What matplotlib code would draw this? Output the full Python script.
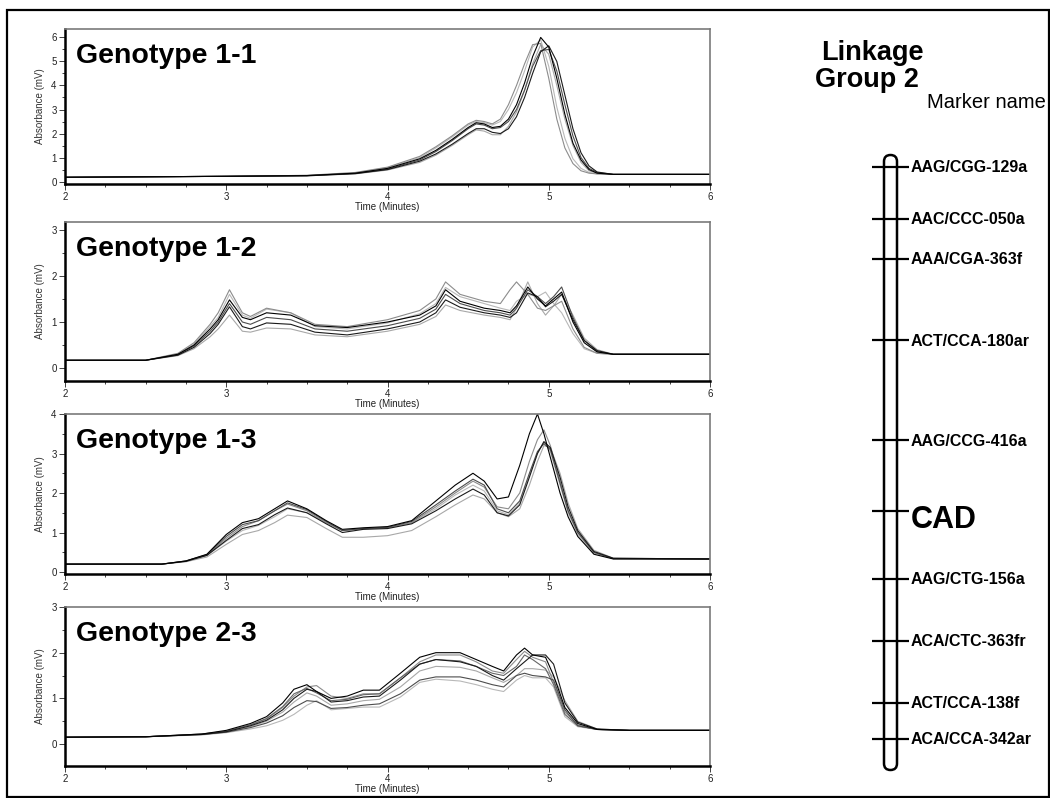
import matplotlib
matplotlib.use("Agg")
import matplotlib.pyplot as plt
from matplotlib.patches import Rectangle, FancyBboxPatch
from matplotlib.ticker import MultipleLocator

plt.rcParams['font.family'] = ['Liberation Sans', 'DejaVu Sans']

# ---------------- chromatogram data (time in minutes, absorbance in mV) ----------------
t1 = [2.0, 2.5, 3.0, 3.5, 3.8, 4.0, 4.2, 4.3, 4.4, 4.5, 4.55, 4.6, 4.65, 4.7,
      4.75, 4.8, 4.85, 4.9, 4.95, 5.0, 5.05, 5.1, 5.15, 5.2, 5.25, 5.3, 5.4, 6.0]
g11_a = [0.18, 0.2, 0.22, 0.25, 0.35, 0.55, 0.95, 1.3, 1.75, 2.25, 2.45, 2.4, 2.25, 2.3,
         2.6, 3.2, 4.1, 5.2, 6.0, 5.6, 4.3, 2.8, 1.6, 0.9, 0.5, 0.35, 0.3, 0.3]
g11_b = [0.18, 0.2, 0.22, 0.26, 0.38, 0.6, 1.05, 1.45, 1.9, 2.4, 2.55, 2.5, 2.4, 2.6,
         3.2, 4.0, 4.9, 5.7, 5.75, 4.3, 2.6, 1.4, 0.75, 0.45, 0.35, 0.32, 0.3, 0.3]
g11_c = [0.18, 0.2, 0.22, 0.24, 0.33, 0.5, 0.85, 1.15, 1.55, 2.0, 2.2, 2.2, 2.05, 2.0,
         2.2, 2.7, 3.5, 4.5, 5.4, 5.65, 5.0, 3.6, 2.2, 1.2, 0.65, 0.4, 0.3, 0.3]
g11_d = [0.18, 0.2, 0.22, 0.24, 0.32, 0.48, 0.8, 1.1, 1.5, 1.95, 2.15, 2.1, 1.95, 1.95,
         2.3, 2.9, 3.8, 4.9, 5.7, 5.3, 4.0, 2.6, 1.5, 0.8, 0.45, 0.35, 0.3, 0.3]
g11_e = [0.18, 0.2, 0.22, 0.25, 0.34, 0.52, 0.9, 1.25, 1.7, 2.2, 2.4, 2.35, 2.2, 2.25,
         2.5, 3.0, 3.8, 4.8, 5.45, 5.5, 4.6, 3.2, 1.9, 1.0, 0.55, 0.38, 0.3, 0.3]
g11_f = [0.18, 0.2, 0.22, 0.26, 0.36, 0.58, 1.0, 1.4, 1.85, 2.35, 2.5, 2.45, 2.35, 2.5,
         3.0, 3.7, 4.6, 5.6, 5.9, 4.8, 3.1, 1.8, 0.95, 0.55, 0.38, 0.32, 0.3, 0.3]

t2 = [2.0, 2.5, 2.7, 2.8, 2.9, 2.95, 3.02, 3.1, 3.15, 3.25, 3.4, 3.55, 3.75, 4.0, 4.2, 4.3,
      4.36, 4.45, 4.6, 4.7, 4.76, 4.8, 4.87, 4.93, 4.98, 5.03, 5.08, 5.15, 5.22, 5.3, 5.4, 6.0]
g12_a = [0.17, 0.17, 0.3, 0.5, 0.85, 1.05, 1.48, 1.1, 1.05, 1.2, 1.15, 0.92, 0.88, 1.0, 1.15, 1.35,
         1.7, 1.45, 1.3, 1.25, 1.2, 1.35, 1.76, 1.5, 1.35, 1.5, 1.65, 1.0, 0.55, 0.35, 0.3, 0.3]
g12_b = [0.17, 0.17, 0.32, 0.55, 0.95, 1.2, 1.7, 1.2, 1.12, 1.3, 1.2, 0.95, 0.9, 1.05, 1.25, 1.5,
         1.87, 1.6, 1.45, 1.4, 1.7, 1.87, 1.6, 1.3, 1.25, 1.35, 1.45, 0.85, 0.45, 0.32, 0.3, 0.3]
g12_c = [0.17, 0.17, 0.28, 0.45, 0.75, 0.95, 1.33, 0.9, 0.85, 0.98, 0.95, 0.78, 0.72, 0.85, 1.0, 1.2,
         1.48, 1.32, 1.2, 1.15, 1.1, 1.2, 1.63, 1.55, 1.33, 1.45, 1.6, 1.05, 0.6, 0.38, 0.3, 0.3]
g12_d = [0.17, 0.17, 0.27, 0.42, 0.68, 0.85, 1.15, 0.8, 0.78, 0.87, 0.85, 0.72, 0.68, 0.8, 0.95, 1.12,
         1.37, 1.25, 1.15, 1.1, 1.05, 1.3, 1.87, 1.4, 1.15, 1.35, 1.6, 1.15, 0.65, 0.4, 0.3, 0.3]
g12_e = [0.17, 0.17, 0.29, 0.48, 0.8, 1.0, 1.4, 1.0, 0.95, 1.1, 1.05, 0.85, 0.8, 0.92, 1.08, 1.28,
         1.6, 1.4, 1.25, 1.2, 1.15, 1.3, 1.7, 1.55, 1.4, 1.55, 1.76, 1.1, 0.6, 0.36, 0.3, 0.3]
g12_f = [0.17, 0.17, 0.3, 0.52, 0.9, 1.1, 1.6, 1.15, 1.08, 1.28, 1.2, 0.9, 0.85, 0.98, 1.18, 1.4,
         1.75, 1.55, 1.4, 1.3, 1.25, 1.45, 1.6, 1.55, 1.65, 1.4, 1.2, 0.75, 0.42, 0.32, 0.3, 0.3]

t3 = [2.0, 2.6, 2.75, 2.88, 3.0, 3.1, 3.2, 3.3, 3.38, 3.5, 3.62, 3.72, 3.85, 4.0, 4.15, 4.3,
      4.42, 4.53, 4.6, 4.68, 4.75, 4.82, 4.88, 4.93, 4.97, 5.01, 5.07, 5.12, 5.18, 5.28, 5.4, 6.0]
g13_a = [0.2, 0.2, 0.28, 0.45, 0.95, 1.25, 1.35, 1.6, 1.8, 1.6, 1.3, 1.08, 1.12, 1.15, 1.3, 1.8,
         2.2, 2.5, 2.3, 1.85, 1.9, 2.7, 3.5, 4.0, 3.5, 2.9, 2.0, 1.4, 0.9, 0.45, 0.33, 0.33]
g13_b = [0.2, 0.2, 0.28, 0.43, 0.85, 1.15, 1.3, 1.55, 1.72, 1.55, 1.25, 1.05, 1.1, 1.12, 1.25, 1.65,
         2.0, 2.3, 2.15, 1.65, 1.6, 2.0, 2.8, 3.35, 3.6, 3.2, 2.3, 1.55, 1.0, 0.5, 0.34, 0.33]
g13_c = [0.2, 0.2, 0.27, 0.42, 0.8, 1.1, 1.2, 1.45, 1.62, 1.5, 1.22, 1.0, 1.08, 1.1, 1.22, 1.55,
         1.85, 2.1, 1.95, 1.5, 1.42, 1.7, 2.4, 3.0, 3.3, 3.15, 2.4, 1.65, 1.05, 0.52, 0.35, 0.33]
g13_d = [0.2, 0.2, 0.26, 0.38, 0.7, 0.95, 1.05, 1.25, 1.44, 1.38, 1.1, 0.88, 0.88, 0.92, 1.05, 1.4,
         1.7, 1.95, 1.85, 1.5, 1.4, 1.6, 2.2, 2.8, 3.2, 3.15, 2.5, 1.75, 1.1, 0.55, 0.35, 0.33]
g13_e = [0.2, 0.2, 0.28, 0.44, 0.9, 1.2, 1.3, 1.55, 1.75, 1.58, 1.28, 1.05, 1.1, 1.13, 1.28, 1.7,
         2.05, 2.35, 2.2, 1.6, 1.5, 1.8, 2.5, 3.05, 3.25, 3.1, 2.25, 1.55, 1.0, 0.5, 0.34, 0.33]
g13_f = [0.2, 0.2, 0.27, 0.42, 0.78, 1.05, 1.18, 1.4, 1.6, 1.5, 1.25, 1.05, 1.1, 1.12, 1.24, 1.6,
         1.95, 2.2, 2.05, 1.55, 1.45, 1.75, 2.45, 3.0, 3.3, 3.05, 2.2, 1.5, 0.95, 0.48, 0.34, 0.33]

t4 = [2.0, 2.5, 2.85, 3.0, 3.15, 3.25, 3.35, 3.42, 3.5, 3.56, 3.65, 3.75, 3.85, 3.95, 4.08, 4.2,
      4.3, 4.45, 4.55, 4.65, 4.72, 4.8, 4.85, 4.9, 4.98, 5.03, 5.1, 5.18, 5.3, 5.5, 6.0]
g23_a = [0.15, 0.16, 0.22, 0.3, 0.45, 0.6, 0.9, 1.2, 1.3, 1.15, 1.0, 1.05, 1.18, 1.18, 1.55, 1.9,
         2.0, 2.0, 1.85, 1.7, 1.6, 1.95, 2.1, 1.95, 1.9, 1.5, 0.8, 0.45, 0.32, 0.3, 0.3]
g23_b = [0.15, 0.16, 0.22, 0.28, 0.42, 0.55, 0.8, 1.05, 1.25, 1.28, 1.05, 1.0, 1.1, 1.1, 1.45, 1.8,
         1.95, 1.95, 1.8, 1.6, 1.55, 1.85, 2.03, 1.9, 1.8, 1.35, 0.7, 0.42, 0.32, 0.3, 0.3]
g23_c = [0.15, 0.16, 0.21, 0.27, 0.4, 0.52, 0.75, 1.0, 1.2, 1.15, 0.92, 0.95, 1.03, 1.05, 1.4, 1.75,
         1.85, 1.8, 1.7, 1.5, 1.4, 1.65, 1.8, 1.95, 1.95, 1.75, 0.9, 0.48, 0.33, 0.3, 0.3]
g23_d = [0.15, 0.16, 0.21, 0.26, 0.38, 0.5, 0.7, 0.92, 1.12, 1.05, 0.85, 0.88, 0.95, 0.98, 1.25, 1.6,
         1.7, 1.68, 1.6, 1.45, 1.35, 1.5, 1.65, 1.65, 1.62, 1.47, 0.95, 0.5, 0.33, 0.3, 0.3]
g23_e = [0.15, 0.16, 0.21, 0.26, 0.36, 0.46, 0.62, 0.8, 0.95, 0.93, 0.78, 0.8, 0.85, 0.88, 1.1, 1.4,
         1.47, 1.47, 1.4, 1.3, 1.25, 1.5, 1.55, 1.5, 1.47, 1.4, 0.75, 0.4, 0.32, 0.3, 0.3]
g23_f = [0.15, 0.16, 0.2, 0.25, 0.33, 0.4, 0.52, 0.65, 0.85, 0.95, 0.75, 0.78, 0.81, 0.81, 1.03, 1.35,
         1.42, 1.38, 1.3, 1.2, 1.15, 1.4, 1.5, 1.45, 1.45, 1.25, 0.6, 0.38, 0.32, 0.3, 0.3]
g23_g = [0.15, 0.16, 0.22, 0.28, 0.42, 0.56, 0.82, 1.1, 1.22, 1.12, 0.95, 0.98, 1.08, 1.1, 1.45, 1.75,
         1.85, 1.82, 1.7, 1.55, 1.5, 1.7, 1.95, 1.85, 1.65, 1.3, 0.65, 0.4, 0.32, 0.3, 0.3]

titles = ['Genotype 1-1', 'Genotype 1-2', 'Genotype 1-3', 'Genotype 2-3']
y_limits = [(-0.1, 6.35), (-0.28, 3.17), (-0.05, 4.0), (-0.48, 3.0)]

# linkage group 2 markers, map position measured from the top of the bar
marker_names = ['AAG/CGG-129a', 'AAC/CCC-050a', 'AAA/CGA-363f', 'ACT/CCA-180ar',
                'AAG/CCG-416a', 'CAD', 'AAG/CTG-156a', 'ACA/CTC-363fr',
                'ACT/CCA-138f', 'ACA/CCA-342ar']
marker_pos = [12, 64, 104, 185, 285, 356, 424, 486, 548, 584]
map_length = 615

W, H = 1050, 798
fig = plt.figure(figsize=(W / 100, H / 100), dpi=100)

# panel boxes in pixels: (left, top, right, bottom)
boxes = [(65, 29, 710, 184), (65, 222, 710, 381), (65, 414, 710, 574), (65, 607, 710, 766)]
panels = [
    (t1, [g11_a, g11_b, g11_c, g11_d, g11_e, g11_f]),
    (t2, [g12_a, g12_b, g12_c, g12_d, g12_e, g12_f]),
    (t3, [g13_a, g13_b, g13_c, g13_d, g13_e, g13_f]),
    (t4, [g23_a, g23_b, g23_c, g23_d, g23_e, g23_f, g23_g]),
]
line_colors = ['#000000', '#8c8c8c', '#1a1a1a', '#a8a8a8', '#4d4d4d', '#b8b8b8', '#666666']

for i, (box, (tt, traces)) in enumerate(zip(boxes, panels)):
    l, t, r, b = box
    ax = fig.add_axes([l / W, 1 - b / H, (r - l) / W, (b - t) / H])
    # draw light traces first so darker ones sit on top
    order = sorted(range(len(traces)), key=lambda k: -int(line_colors[k][1:3], 16))
    for k in order:
        ax.plot(tt, traces[k], color=line_colors[k], lw=0.8)
    ax.set_xlim(2, 6)
    ax.set_ylim(*y_limits[i])
    ax.xaxis.set_major_locator(MultipleLocator(1))
    ax.xaxis.set_minor_locator(MultipleLocator(0.25))
    ax.yaxis.set_major_locator(MultipleLocator(1))
    ax.yaxis.set_minor_locator(MultipleLocator(0.5))
    ax.tick_params(which='both', direction='out', labelsize=7, colors='#222222',
                   width=0.6, pad=2)
    ax.tick_params(which='major', length=4)
    ax.tick_params(which='minor', length=2)
    for side in ['left', 'bottom']:
        ax.spines[side].set_color('black')
        ax.spines[side].set_linewidth(1.8)
    for side in ['top', 'right']:
        ax.spines[side].set_color('#7a7a7a')
        ax.spines[side].set_linewidth(1.2)
    ax.set_xlabel('Time (Minutes)', fontsize=7, color='#222222')
    ax.xaxis.set_label_coords(0.5, -18 / (b - t))
    ax.set_ylabel('Absorbance (mV)', fontsize=7, color='#333333')
    ax.yaxis.set_label_coords(-20 / (r - l), 0.5)
    ax.text(11 / (r - l), 1 - 34 / (b - t), titles[i], transform=ax.transAxes,
            fontsize=20.5, fontweight='bold', va='baseline', ha='left')

# full-figure overlay in pixel units: frame and linkage map
over = fig.add_axes([0, 0, 1, 1], zorder=-1)
over.set_xlim(0, W)
over.set_ylim(H, 0)
over.axis('off')
over.add_patch(Rectangle((7, 10), 1042, 787, fill=False, lw=1.6, edgecolor='black'))

over.text(872, 60, 'Linkage', fontsize=19.5, fontweight='bold', ha='center', va='baseline')
over.text(867, 87, 'Group 2', fontsize=19.5, fontweight='bold', ha='center', va='baseline')
over.text(927, 108, 'Marker name', fontsize=14.5, ha='left', va='baseline')

bar_top = 155
over.add_patch(FancyBboxPatch((884, bar_top), 13, map_length,
                              boxstyle='round,pad=0,rounding_size=6.5',
                              fill=False, lw=1.8, edgecolor='black'))
for name, pos in zip(marker_names, marker_pos):
    y = bar_top + pos
    over.plot([872, 909], [y, y], color='black', lw=1.6, solid_capstyle='butt')
    if name == 'CAD':
        over.text(911, y + 17, name, fontsize=22, fontweight='bold', ha='left', va='baseline')
    else:
        over.text(911, y + 1, name, fontsize=11.5, fontweight='bold', ha='left', va='center')

fig.savefig('out.png', dpi=100)
